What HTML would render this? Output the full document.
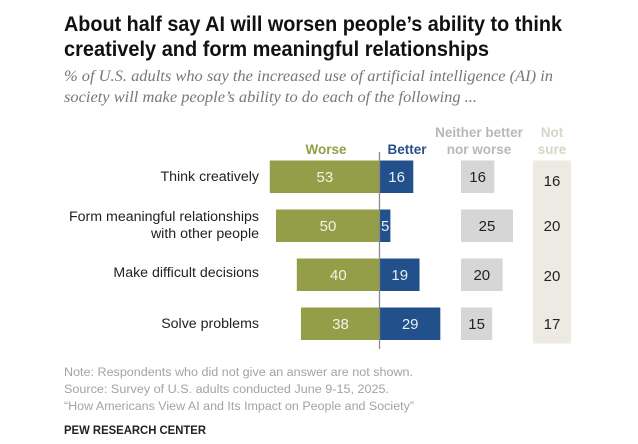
<!DOCTYPE html>
<html lang="en">
<head>
<meta charset="utf-8">
<title>About half say AI will worsen people's ability</title>
<style>
html,body{margin:0;padding:0;background:#fff;width:638px;height:444px;overflow:hidden}
svg{display:block;filter:blur(0.3px)}
text{font-family:"Liberation Sans",sans-serif}
</style>
</head>
<body>
<svg id="chart" xmlns="http://www.w3.org/2000/svg" width="638" height="444" viewBox="0 0 638 444">
  <rect width="638" height="444" fill="#fff"/>
  <g font-weight="700" font-size="21" fill="#111">
    <text x="64" y="31" textLength="498" lengthAdjust="spacingAndGlyphs">About half say AI will worsen people’s ability to think</text>
    <text x="64" y="56" textLength="425" lengthAdjust="spacingAndGlyphs">creatively and form meaningful relationships</text>
  </g>
  <g font-size="16" font-style="italic" fill="#777">
    <text style="font-family:'Liberation Serif',serif" x="64" y="81" textLength="489" lengthAdjust="spacingAndGlyphs">% of U.S. adults who say the increased use of artificial intelligence (AI) in</text>
    <text style="font-family:'Liberation Serif',serif" x="64" y="102" textLength="413" lengthAdjust="spacingAndGlyphs">society will make people’s ability to do each of the following ...</text>
  </g>
  <g font-weight="700" font-size="13.5" text-anchor="middle">
    <text x="326" y="154" fill="#949d48">Worse</text>
    <text x="407" y="154" fill="#29508a">Better</text>
    <text x="479" y="137" fill="#b8b8b8">Neither better</text>
    <text x="479" y="154" fill="#b8b8b8">nor worse</text>
    <text x="552" y="137" fill="#d9d5c5">Not</text>
    <text x="552" y="154" fill="#d9d5c5">sure</text>
  </g>
  <rect x="533" y="160.5" width="38" height="183" fill="#edeae4"/>
  <g id="marks"></g>
  <line x1="379.5" x2="379.5" y1="152" y2="349" stroke="#8a8a8a" stroke-width="1.3"/>
  <g font-size="11.5" fill="#a3a3a3">
    <text x="64" y="376" textLength="349" lengthAdjust="spacingAndGlyphs">Note: Respondents who did not give an answer are not shown.</text>
    <text x="64" y="393" textLength="325" lengthAdjust="spacingAndGlyphs">Source: Survey of U.S. adults conducted June 9-15, 2025.</text>
    <text x="64" y="410" textLength="350" lengthAdjust="spacingAndGlyphs">“How Americans View AI and Its Impact on People and Society”</text>
  </g>
  <text x="64" y="434" font-size="11.5" font-weight="700" fill="#222" textLength="142" lengthAdjust="spacingAndGlyphs">PEW RESEARCH CENTER</text>
</svg>
<script>
const categories = [["Think creatively"], ["Form meaningful relationships", "with other people"], ["Make difficult decisions"], ["Solve problems"]];
const worse = [53, 50, 40, 38];
const better = [16, 5, 19, 29];
const neither = [16, 25, 20, 15];
const notSure = [16, 20, 20, 17];

const svgNS = "http://www.w3.org/2000/svg";
const marks = document.getElementById("marks");
const unit = 2.08;
const zeroX = 380;
const neitherX = 461;
const notSureX = 552;
const firstRowTop = 160.5;
const rowStep = 49;
const barHeight = 32.5;

function xWorse(v) { return zeroX - v * unit; }
function xBetter(v) { return zeroX + v * unit; }
function widthOf(v) { return v * unit; }
function yRow(i) { return firstRowTop + i * rowStep; }

function rect(x, y, w, h, fill) {
  const el = document.createElementNS(svgNS, "rect");
  el.setAttribute("x", x);
  el.setAttribute("y", y);
  el.setAttribute("width", w);
  el.setAttribute("height", h);
  el.setAttribute("fill", fill);
  marks.appendChild(el);
  return el;
}
function label(x, y, str, fill, anchor) {
  const el = document.createElementNS(svgNS, "text");
  el.setAttribute("x", x);
  el.setAttribute("y", y);
  el.setAttribute("fill", fill);
  el.setAttribute("font-size", "15");
  el.setAttribute("text-anchor", anchor);
  el.textContent = str;
  marks.appendChild(el);
  return el;
}

categories.forEach(function (lines, i) {
  const top = yRow(i);
  const mid = top + barHeight / 2;
  const base = mid + 5;

  lines.forEach(function (line, k) {
    const offset = lines.length === 2 ? (k === 0 ? -9 : 8) : (i === 2 ? -2 : 0);
    const t = label(259, mid + 4 + offset, line, "#222", "end");
    t.setAttribute("font-size", "14.2");
    
    
  });

  const bw = rect(xWorse(worse[i]), top, widthOf(worse[i]), barHeight, "#949d48");
  
  
  const tw = label(xWorse(worse[i] / 2), base, String(worse[i]), "#f4f4e6", "middle");
  
  

  const bb = rect(zeroX, top, widthOf(better[i]), barHeight, "#22508a");
  
  
  const tb = label(xBetter(better[i] / 2), base, String(better[i]), "#e8eef5", "middle");
  
  

  const bn = rect(neitherX, top, widthOf(neither[i]), barHeight, "#d6d6d6");
  
  
  const tn = label(neitherX + widthOf(neither[i]) / 2, base, String(neither[i]), "#222", "middle");
  
  

  const ts = label(notSureX, base + (i === 0 ? 4 : i === 2 ? 1 : 0), String(notSure[i]), "#222", "middle");
  
  
});
</script>
</body>
</html>
